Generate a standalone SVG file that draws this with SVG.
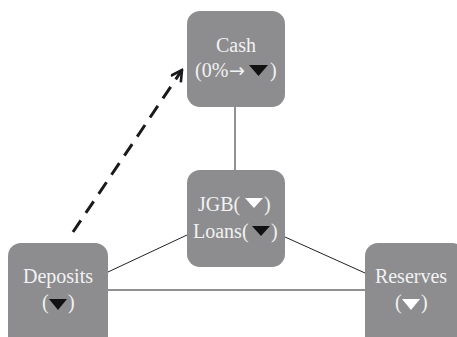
<svg xmlns="http://www.w3.org/2000/svg" width="457" height="337" viewBox="0 0 457 337">
  <style>
    .box { fill: #8d8d90; }
    .lbl { font-family: "Liberation Serif", "DejaVu Serif", serif; font-size: 20px; fill: #f2f2f2; }
    .arw { font-family: "DejaVu Sans", sans-serif; font-size: 19px; fill: #f2f2f2; }
    .mid { text-anchor: middle; }
    .tri-b { fill: #111111; }
    .tri-w { fill: #ffffff; }
    .link { stroke: #222222; stroke-width: 1; fill: none; }
    .flow { stroke: #1a1a1a; stroke-width: 3; fill: none; stroke-dasharray: 14 9; }
  </style>
  <defs>
    <marker id="open-head" viewBox="0 0 14 14" refX="12" refY="7" markerWidth="14" markerHeight="14" markerUnits="userSpaceOnUse" orient="auto">
      <path d="M1,1 L12,7 L1,13" fill="none" stroke="#1a1a1a" stroke-width="2.6"/>
    </marker>
  </defs>
  <rect width="457" height="337" fill="#ffffff"/>

  <g id="connectors">
    <line class="link" x1="235" y1="107" x2="235" y2="170"/>
    <line class="link" x1="187" y1="235" x2="108" y2="272"/>
    <line class="link" x1="285" y1="237" x2="365" y2="273"/>
    <line class="link" x1="108" y1="290" x2="365" y2="290"/>
    <line class="flow" x1="73" y1="232" x2="182" y2="70" marker-end="url(#open-head)"/>
  </g>

  <g id="cash">
    <rect class="box" x="187" y="11" width="98" height="96" rx="13"/>
    <text class="lbl mid" x="236" y="52">Cash</text>
    <text class="lbl" x="195" y="77">(0%</text>
    <text class="arw" x="229" y="77">→</text>
    <polygon class="tri-b" points="249,65 268,65 258.5,76"/>
    <text class="lbl" x="270" y="77">)</text>
  </g>

  <g id="jgb-loans">
    <rect class="box" x="187" y="170" width="98" height="97" rx="13"/>
    <text class="lbl" x="198" y="211">JGB(</text>
    <polygon class="tri-w" points="245,198 263,198 254,208"/>
    <text class="lbl" x="264" y="211">)</text>
    <text class="lbl" x="193" y="238">Loans(</text>
    <polygon class="tri-b" points="252,226 270,226 261,236"/>
    <text class="lbl" x="271" y="238">)</text>
  </g>

  <g id="deposits">
    <rect class="box" x="8" y="243" width="100" height="110" rx="13"/>
    <text class="lbl mid" x="58" y="283">Deposits</text>
    <text class="lbl" x="42" y="309">(</text>
    <polygon class="tri-b" points="49,299 67,299 58,310"/>
    <text class="lbl" x="68" y="309">)</text>
  </g>

  <g id="reserves">
    <rect class="box" x="365" y="243" width="100" height="110" rx="13"/>
    <text class="lbl mid" x="411" y="283">Reserves</text>
    <text class="lbl" x="395" y="309">(</text>
    <polygon class="tri-w" points="402,299 420,299 411,310"/>
    <text class="lbl" x="421" y="309">)</text>
  </g>
</svg>
